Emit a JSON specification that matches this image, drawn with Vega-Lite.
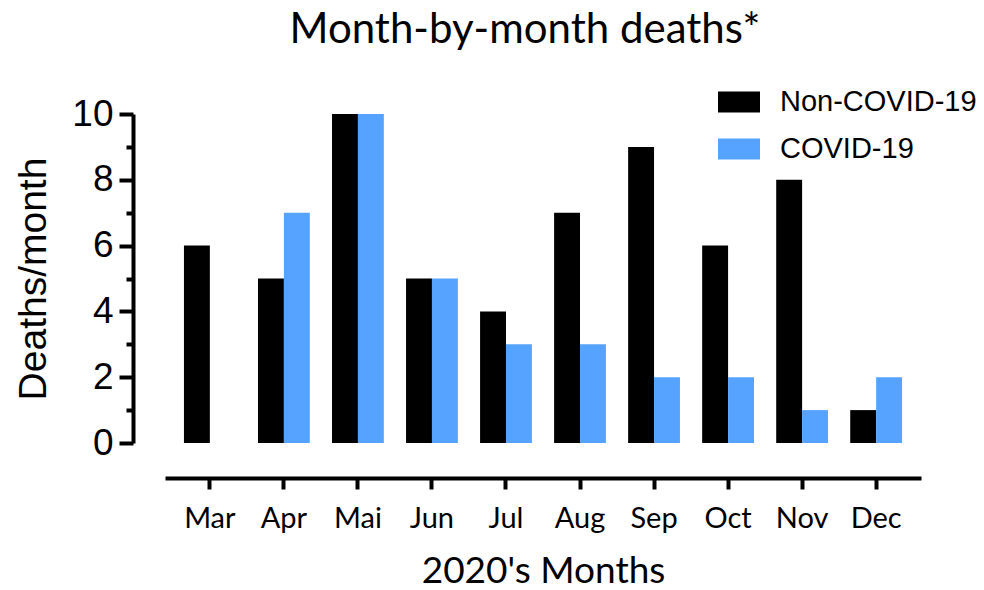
{
  "$schema": "https://vega.github.io/schema/vega-lite/v6.json",
  "width": 756,
  "height": 329,
  "autosize": "none",
  "padding": {"left": 165, "top": 114, "right": 63, "bottom": 147},
  "background": "white",
  "config": {"view": {"stroke": null}},
  "title": {
    "text": "Month-by-month deaths*",
    "font": "Lato",
    "fontSize": 42,
    "fontWeight": "normal",
    "color": "black",
    "anchor": "middle",
    "dx": -18,
    "offset": 29
  },
  "data": {
    "values": [
      {"month": "Mar", "group": "Non-COVID-19", "deaths": 6},
      {"month": "Mar", "group": "COVID-19", "deaths": 0},
      {"month": "Apr", "group": "Non-COVID-19", "deaths": 5},
      {"month": "Apr", "group": "COVID-19", "deaths": 7},
      {"month": "Mai", "group": "Non-COVID-19", "deaths": 10},
      {"month": "Mai", "group": "COVID-19", "deaths": 10},
      {"month": "Jun", "group": "Non-COVID-19", "deaths": 5},
      {"month": "Jun", "group": "COVID-19", "deaths": 5},
      {"month": "Jul", "group": "Non-COVID-19", "deaths": 4},
      {"month": "Jul", "group": "COVID-19", "deaths": 3},
      {"month": "Aug", "group": "Non-COVID-19", "deaths": 7},
      {"month": "Aug", "group": "COVID-19", "deaths": 3},
      {"month": "Sep", "group": "Non-COVID-19", "deaths": 9},
      {"month": "Sep", "group": "COVID-19", "deaths": 2},
      {"month": "Oct", "group": "Non-COVID-19", "deaths": 6},
      {"month": "Oct", "group": "COVID-19", "deaths": 2},
      {"month": "Nov", "group": "Non-COVID-19", "deaths": 8},
      {"month": "Nov", "group": "COVID-19", "deaths": 1},
      {"month": "Dec", "group": "Non-COVID-19", "deaths": 1},
      {"month": "Dec", "group": "COVID-19", "deaths": 2}
    ]
  },
  "mark": {"type": "bar"},
  "encoding": {
    "x": {
      "field": "month",
      "type": "nominal",
      "sort": ["Mar", "Apr", "Mai", "Jun", "Jul", "Aug", "Sep", "Oct", "Nov", "Dec"],
      "scale": {"paddingInner": 0.3, "paddingOuter": 0.256},
      "axis": {
        "title": "2020's Months",
        "titleFont": "Lato",
        "titleFontSize": 37,
        "titleFontWeight": "normal",
        "titleColor": "black",
        "titlePadding": 20,
        "labelFont": "Lato",
        "labelFontSize": 29,
        "labelColor": "black",
        "labelAngle": 0,
        "labelPadding": 15,
        "offset": 35,
        "domainColor": "black",
        "domainWidth": 4,
        "tickColor": "black",
        "tickWidth": 4,
        "tickSize": 11,
        "domainCap": "butt"
      }
    },
    "xOffset": {
      "field": "group",
      "type": "nominal",
      "sort": ["Non-COVID-19", "COVID-19"],
      "scale": {"paddingInner": 0, "paddingOuter": 0}
    },
    "y": {
      "field": "deaths",
      "type": "quantitative",
      "scale": {"domain": [0, 10], "nice": false},
      "axis": {
        "title": "Deaths/month",
        "titleFont": "Liberation Sans",
        "titleFontSize": 39,
        "titleFontWeight": "normal",
        "titleColor": "black",
        "titlePadding": 18,
        "values": [0, 1, 2, 3, 4, 5, 6, 7, 8, 9, 10],
        "labelExpr": "datum.value % 2 == 0 ? datum.label : ''",
        "labelFont": "Liberation Sans",
        "labelFontSize": 37,
        "labelColor": "black",
        "labelPadding": 6,
        "grid": false,
        "offset": 32,
        "domainColor": "black",
        "domainWidth": 4,
        "tickColor": "black",
        "tickWidth": 4,
        "tickSize": {"condition": {"test": "datum.value % 2 == 1", "value": 7}, "value": 14}
      }
    },
    "color": {
      "field": "group",
      "type": "nominal",
      "sort": ["Non-COVID-19", "COVID-19"],
      "scale": {"domain": ["Non-COVID-19", "COVID-19"], "range": ["#000000", "#55a3ff"]},
      "legend": {
        "title": null,
        "orient": "none",
        "legendX": 553,
        "legendY": -33,
        "symbolType": "M-1,-0.5H1V0.5H-1Z",
        "symbolSize": 1764,
        "symbolStrokeWidth": 0,
        "symbolOpacity": 1,
        "labelFont": "Liberation Sans",
        "labelFontSize": 29,
        "labelColor": "black",
        "labelOffset": 20,
        "rowPadding": 11,
        "labelLimit": 400
      }
    }
  }
}
